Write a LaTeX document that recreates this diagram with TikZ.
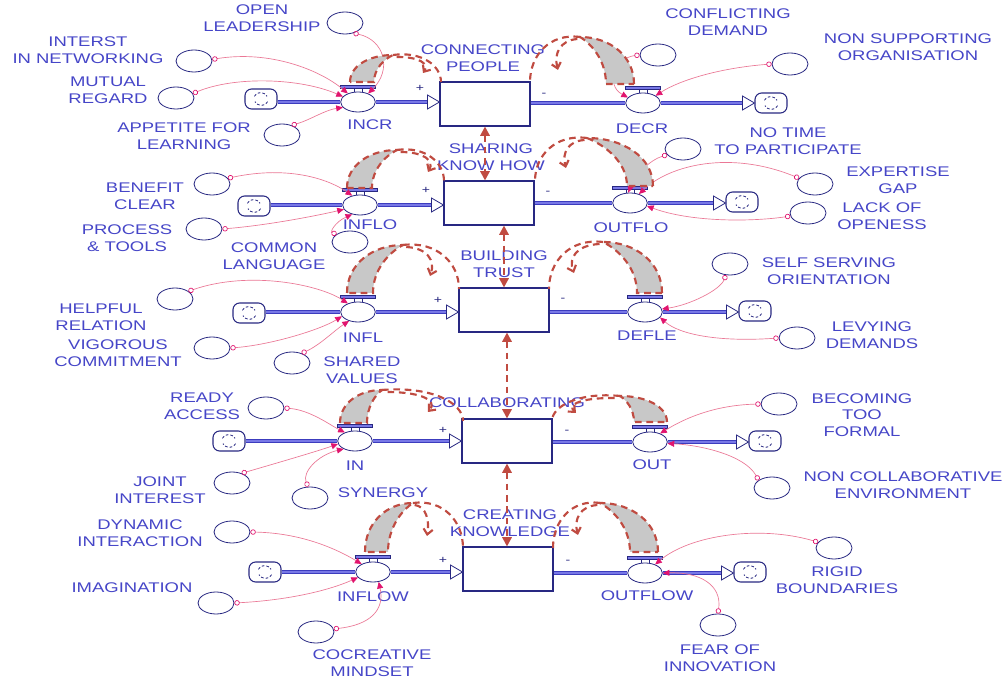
\documentclass[tikz,border=0pt]{standalone}
\usepackage{fontspec}
\newfontfamily\lab[FakeStretch=1.32]{Liberation Sans}
\usetikzlibrary{shapes.geometric,shapes.symbols,arrows.meta}
\definecolor{txt}{RGB}{70,70,200}
\definecolor{navy}{RGB}{40,40,130}
\definecolor{pipec}{RGB}{60,60,190}
\definecolor{pipein}{RGB}{120,120,230}
\definecolor{pinkc}{RGB}{235,120,150}
\definecolor{magc}{RGB}{225,20,110}
\definecolor{rdc}{RGB}{192,75,65}
\definecolor{grayf}{RGB}{200,200,200}
\tikzset{
 lbl/.style={text=txt, font=\lab\fontsize{10.5}{12.5}\selectfont, align=center, inner sep=0pt},
 sgn/.style={text=navy, font=\lab\fontsize{8}{8}\selectfont, inner sep=0pt},
 conv/.style={ellipse, draw=navy, fill=white, line width=0.6pt, minimum width=27pt, minimum height=16.5pt, inner sep=0pt},
 valvesty/.style={ellipse, draw=navy, fill=white, line width=0.6pt, minimum width=26pt, minimum height=15pt, inner sep=0pt},
 stock/.style={rectangle, draw=navy, fill=white, line width=0.8pt, minimum width=67.5pt, minimum height=33pt, inner sep=0pt},
 cloudsty/.style={rectangle, rounded corners=5pt, draw=navy, fill=white, line width=0.8pt, minimum width=24pt, minimum height=15pt, inner sep=0pt},
 pipe/.style={draw=pipec, line width=0.7pt, double=pipein, double distance=2.2pt},
 tri/.style={draw=navy, fill=white, line width=0.6pt},
 conn/.style={draw=pinkc, line width=0.5pt, {Circle[open, length=4pt, width=4pt, color=magc]}-{Triangle[length=5pt, width=4.5pt, color=magc]}},
 rdash/.style={draw=rdc, line width=1.6pt, dash pattern=on 5pt off 3.5pt},
 vdash/.style={draw=rdc, line width=1.6pt, dash pattern=on 5pt off 3.5pt, {Triangle[length=7pt,width=7pt]}-{Triangle[length=7pt,width=7pt]}}
}
\newcommand\mkvalve[3]{\node[valvesty] (#1) at (#2,#3) {};
 \draw[draw=navy, line width=0.5pt, fill=pipein] ([xshift=-13pt,yshift=2.5pt]#1.north) rectangle ([xshift=13pt,yshift=4.8pt]#1.north);
 \draw[navy, line width=0.5pt] ([xshift=-3pt]#1.north) -- ([xshift=-3pt,yshift=2.5pt]#1.north) ([xshift=3pt]#1.north) -- ([xshift=3pt,yshift=2.5pt]#1.north);}
\newcommand\mkcloud[3]{\node[cloudsty] (#1) at (#2,#3) {};
 \draw[navy, line width=0.6pt, dash pattern=on 2pt off 1.5pt] ([xshift=-5pt,yshift=2pt]#1.center) arc[start angle=150, end angle=30, radius=5.5pt];
 \draw[navy, line width=0.6pt, dash pattern=on 2pt off 1.5pt] ([xshift=5pt,yshift=-2pt]#1.center) arc[start angle=-30, end angle=-150, radius=5.5pt];}
\newcommand\hornloop[9]{%
 \filldraw[rdash, fill=grayf] (#1,#3) .. controls (#1,{#3-0.6*(#3-#5)}) and ({#4-0.55*(#4-#1)},#5) .. (#4,#5) .. controls ({#4-0.45*(#4-#2)},{#5+0.15*(#3-#5)}) and (#2,{#3-0.5*(#3-#5)}) .. (#2,#3) -- cycle;
 \draw[rdash] (#4,#5) .. controls ({#4+0.6*(#6-#4)},{#5-4}) and (#6,{#7-0.6*(#7-#5)}) .. (#6,#7);
 \draw[rdash, -{Straight Barb[length=4pt,width=7pt]}] ({#4+0.12*(#8-#4)},{#5+2}) .. controls ({#8-0.1*(#8-#4)},{#5+0.1*(#9-#5)}) and ({#8+0.2*(#8-#4)},{#9-0.5*(#9-#5)}) .. (#8,#9);}
\newcommand\mkrow[6]{% left cloud, inflow valve, stock, outflow valve, right cloud, row id
 \coordinate (a#6) at (#3.west |- #2);
 \coordinate (b#6) at (#5.west |- #4);
 \draw[pipe] (#1.east |- #2) -- (#2.west);
 \draw[pipe] (#2.east) -- ([xshift=-9pt]a#6);
 \draw[tri] (a#6) -- ++(-12,-7) -- ++(0,14) -- cycle;
 \draw[pipe] (#3.east |- #4) -- (#4.west);
 \draw[pipe] (#4.east) -- ([xshift=-9pt]b#6);
 \draw[tri] (b#6) -- ++(-12,-7) -- ++(0,14) -- cycle;}
\begin{document}
\begin{tikzpicture}[x=0.75pt,y=-0.75pt]
\fill[white] (0,0) rectangle (1008,680);
\useasboundingbox (0,0) rectangle (1008,680);
% stocks
\node[stock] (S1) at (485,104) {};
\node[stock] (S2) at (489,203) {};
\node[stock] (S3) at (504,310) {};
\node[stock] (S4) at (507,441) {};
\node[stock] (S5) at (508,569) {};
% clouds
\mkcloud{L1}{261}{99} \mkcloud{R1}{771}{103}
\mkcloud{L2}{254}{206} \mkcloud{R2}{742}{202}
\mkcloud{L3}{249}{313} \mkcloud{R3}{755}{311}
\mkcloud{L4}{229}{441} \mkcloud{R4}{765}{441}
\mkcloud{L5}{265}{572} \mkcloud{R5}{750}{572}
% valves
\mkvalve{INCR}{358}{102} \mkvalve{DECR}{643}{103}
\mkvalve{INFLO}{360}{205} \mkvalve{OUTFLO}{630}{203}
\mkvalve{INFL}{358}{312} \mkvalve{DEFLE}{645}{312}
\mkvalve{IN}{355}{441} \mkvalve{OUT}{650}{442}
\mkvalve{INFLOW}{373}{572} \mkvalve{OUTFLOW}{645}{573}
% pipes
\mkrow{L1}{INCR}{S1}{DECR}{R1}{1}
\mkrow{L2}{INFLO}{S2}{OUTFLO}{R2}{2}
\mkrow{L3}{INFL}{S3}{DEFLE}{R3}{3}
\mkrow{L4}{IN}{S4}{OUT}{R4}{4}
\mkrow{L5}{INFLOW}{S5}{OUTFLOW}{R5}{5}
% stock labels
\node[lbl] (tS1) at (483,58) {CONNECTING\\PEOPLE};
\node[lbl] (tS2) at (491,157) {SHARING\\KNOW HOW};
\node[lbl] (tS3) at (504,264) {BUILDING\\TRUST};
\node[lbl] (tS4) at (507,403) {COLLABORATING};
\node[lbl] (tS5) at (510,523) {CREATING\\KNOWLEDGE};
% valve labels
\node[lbl] (tINCR) at (370,125) {INCR};
\node[lbl] (tDECR) at (642,129) {DECR};
\node[lbl] (tINFLO) at (370,225) {INFLO};
\node[lbl] (tOUTFLO) at (631,228) {OUTFLO};
\node[lbl] (tINFL) at (363,338) {INFL};
\node[lbl] (tDEFLE) at (647,336) {DEFLE};
\node[lbl] (tIN) at (355,466) {IN};
\node[lbl] (tOUT) at (652,465) {OUT};
\node[lbl] (tINFLOW) at (373,597) {INFLOW};
\node[lbl] (tOUTFLOW) at (647,596) {OUTFLOW};
% converters
\node[conv] (cOL) at (345,23) {};
\node[conv] (cIN) at (194,61) {};
\node[conv] (cMR) at (176,98) {};
\node[conv] (cAL) at (282,135) {};
\node[conv] (cCD) at (658,55) {};
\node[conv] (cNS) at (790,64) {};
\node[conv] (cNT) at (683,149) {};
\node[conv] (cEG) at (815,184) {};
\node[conv] (cLO) at (808,213) {};
\node[conv] (cBC) at (212,184) {};
\node[conv] (cPT) at (204,229) {};
\node[conv] (cCL) at (350,242) {};
\node[conv] (cHR) at (175,299) {};
\node[conv] (cVC) at (212,348) {};
\node[conv] (cSV) at (292,363) {};
\node[conv] (cSSO) at (730,264) {};
\node[conv] (cLD) at (797,338) {};
\node[conv] (cRA) at (266,408) {};
\node[conv] (cJI) at (232,483) {};
\node[conv] (cSY) at (310,498) {};
\node[conv] (cBTF) at (779,404) {};
\node[conv] (cNCE) at (772,488) {};
\node[conv] (cDI) at (232,532) {};
\node[conv] (cIM) at (216,603) {};
\node[conv] (cCM) at (316,632) {};
\node[conv] (cRB) at (834,548) {};
\node[conv] (cFI) at (718,625) {};
% converter labels
\node[lbl] (tOL) at (262,18) {OPEN\\LEADERSHIP};
\node[lbl] (tINw) at (88,50) {INTERST\\IN NETWORKING};
\node[lbl] (tMR) at (108,90) {MUTUAL\\REGARD};
\node[lbl] (tAL) at (184,136) {APPETITE FOR\\LEARNING};
\node[lbl] (tCD) at (728,22) {CONFLICTING\\DEMAND};
\node[lbl] (tNS) at (908,47) {NON SUPPORTING\\ORGANISATION};
\node[lbl] (tNT) at (788,141) {NO TIME\\TO PARTICIPATE};
\node[lbl] (tEG) at (898,180) {EXPERTISE\\GAP};
\node[lbl] (tLO) at (882,216) {LACK OF\\OPENESS};
\node[lbl] (tBC) at (145,196) {BENEFIT\\CLEAR};
\node[lbl] (tPT) at (127,238) {PROCESS\\\& TOOLS};
\node[lbl] (tCL) at (274,256) {COMMON\\LANGUAGE};
\node[lbl] (tHR) at (101,317) {HELPFUL\\RELATION};
\node[lbl] (tVC) at (118,353) {VIGOROUS\\COMMITMENT};
\node[lbl] (tSV) at (362,370) {SHARED\\VALUES};
\node[lbl] (tSSO) at (829,271) {SELF SERVING\\ORIENTATION};
\node[lbl] (tLD) at (872,335) {LEVYING\\DEMANDS};
\node[lbl] (tRA) at (202,406) {READY\\ACCESS};
\node[lbl] (tJI) at (160,490) {JOINT\\INTEREST};
\node[lbl] (tSY) at (383,493) {SYNERGY};
\node[lbl] (tBTF) at (862,415) {BECOMING\\TOO\\FORMAL};
\node[lbl] (tNCE) at (903,485) {NON COLLABORATIVE\\ENVIRONMENT};
\node[lbl] (tDI) at (140,533) {DYNAMIC\\INTERACTION};
\node[lbl] (tIM) at (132,588) {IMAGINATION};
\node[lbl] (tCM) at (372,663) {COCREATIVE\\MINDSET};
\node[lbl] (tRB) at (837,580) {RIGID\\BOUNDARIES};
\node[lbl] (tFI) at (720,658) {FEAR OF\\INNOVATION};
% connectors
\draw[conn] (cOL.-50) .. controls (385,40) and (392,70) .. (INCR.40);
\draw[conn] (cIN.5) .. controls (270,50) and (320,70) .. (INCR.140);
\draw[conn] (cMR.15) .. controls (235,76) and (300,78) .. (INCR.160);
\draw[conn] (cAL.45) .. controls (310,120) and (325,110) .. (INCR.200);
\draw[conn] (cCD.180) .. controls (615,58) and (605,85) .. (DECR.160);
\draw[conn] (cNS.180) .. controls (720,68) and (680,80) .. (DECR.30);
\draw[conn] (cNT.200) .. controls (650,160) and (635,175) .. (OUTFLO.100);
\draw[conn] (cEG.160) .. controls (730,150) and (670,165) .. (OUTFLO.45);
\draw[conn] (cLO.190) .. controls (750,222) and (690,222) .. (OUTFLO.-10);
\draw[conn] (cBC.20) .. controls (290,165) and (330,180) .. (INFLO.130);
\draw[conn] (cPT.0) .. controls (270,225) and (320,215) .. (INFLO.195);
\draw[conn] (cCL.150) .. controls (330,232) and (335,222) .. (INFLO.230);
\draw[conn] (cHR.30) .. controls (250,270) and (320,285) .. (INFL.140);
\draw[conn] (cVC.0) .. controls (270,345) and (320,330) .. (INFL.195);
\draw[conn] (cSV.45) .. controls (320,345) and (335,330) .. (INFL.225);
\draw[conn] (cSSO.-110) .. controls (720,290) and (690,305) .. (DEFLE.10);
\draw[conn] (cLD.180) .. controls (720,342) and (680,335) .. (DEFLE.-20);
\draw[conn] (cRA.0) .. controls (310,410) and (330,425) .. (IN.140);
\draw[conn] (cJI.45) .. controls (270,465) and (315,452) .. (IN.190);
\draw[conn] (cSY.100) .. controls (302,472) and (318,455) .. (IN.215);
\draw[conn] (cBTF.180) .. controls (720,405) and (690,415) .. (OUT.40);
\draw[conn] (cNCE.150) .. controls (745,455) and (700,445) .. (OUT.-5);
\draw[conn] (cDI.0) .. controls (300,533) and (335,548) .. (INFLOW.145);
\draw[conn] (cIM.0) .. controls (290,600) and (330,590) .. (INFLOW.200);
\draw[conn] (cCM.10) .. controls (370,625) and (385,610) .. (INFLOW.-60);
\draw[conn] (cRB.160) .. controls (760,525) and (690,535) .. (OUTFLOW.40);
\draw[conn] (cFI.90) .. controls (722,585) and (700,572) .. (OUTFLOW.0);
% dashed loops
\hornloop{350}{374}{82}{393}{55}{441}{82}{423}{73}
\hornloop{634}{606}{84}{580}{37}{530}{82}{558}{70}
\hornloop{347}{372}{188}{397}{150}{444}{181}{428}{172}
\hornloop{653}{627}{186}{587}{138}{535}{181}{566}{168}
\hornloop{347}{373}{293}{403}{245}{459}{289}{430}{276}
\hornloop{662}{637}{293}{603}{242}{549}{289}{574}{273}
\hornloop{340}{367}{423}{382}{390}{463}{421}{428}{412}
\hornloop{667}{634}{422}{620}{396}{552}{421}{576}{413}
\hornloop{365}{388}{552}{413}{503}{463}{548}{427}{536}
\hornloop{658}{630}{552}{600}{503}{553}{548}{578}{535}
% vertical arrows between stocks
\draw[vdash] (S1.south) -- (S1.south |- S2.north);
\draw[vdash] (S3.north |- S2.south) -- (S3.north);
\draw[vdash] (S4.north |- S3.south) -- (S4.north);
\draw[vdash] (S4.south) -- (S4.south |- S5.north);
% signs
\node[sgn] (p1) at (420,88) {+};  \node[sgn] (m1) at (544,95) {-};
\node[sgn] (p2) at (426,190) {+}; \node[sgn] (m2) at (548,193) {-};
\node[sgn] (p3) at (438,300) {+}; \node[sgn] (m3) at (563,300) {-};
\node[sgn] (p4) at (443,430) {+}; \node[sgn] (m4) at (567,432) {-};
\node[sgn] (p5) at (443,560) {+}; \node[sgn] (m5) at (568,562) {-};
\end{tikzpicture}
\end{document}
